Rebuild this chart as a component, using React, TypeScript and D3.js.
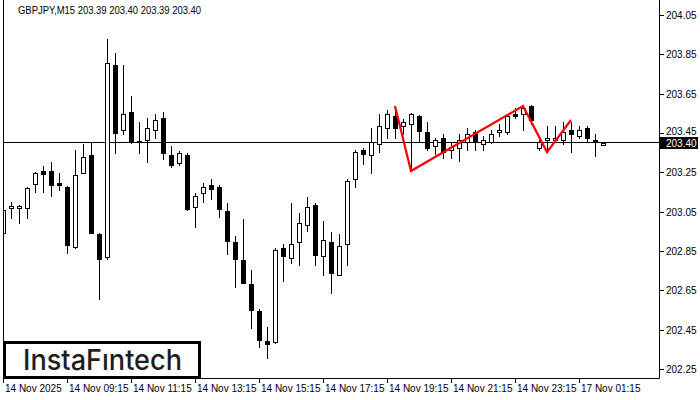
import { useEffect, useRef } from 'react';
import * as d3 from 'd3';

// M15 candles (bar index = position on the chart)
const opens = [
  202.94, 203.07, 203.07, 203.07, 203.19, 203.257, 203.257, 203.196, 203.176, 202.87,
  203.247, 203.338, 202.937, 202.82, 203.796, 203.465, 203.557, 203.41, 203.415, 203.465,
  203.526, 203.338, 203.298, 203.338, 203.074, 203.145, 203.186, 203.176, 203.054, 202.896,
  202.804, 202.682, 202.545, 202.393, 202.388, 202.865, 202.815, 202.896, 202.982, 203.084,
  202.825, 202.896, 202.728, 202.886, 203.216, 203.364, 203.338, 203.394, 203.475, 203.537,
  203.486, 203.496, 203.537, 203.455, 203.384, 203.425, 203.364, 203.374, 203.404, 203.455,
  203.394, 203.404, 203.455, 203.455, 203.547, 203.547, 203.587, 203.374, 203.414, 203.414,
  203.414, 203.465, 203.435, 203.475, 203.414, 203.39,
];
const highs = [
  203.07, 203.1, 203.085, 203.175, 203.25, 203.28, 203.3, 203.247, 203.18, 203.364,
  203.394, 203.404, 202.94, 203.928, 203.857, 203.796, 203.638, 203.506, 203.526, 203.547,
  203.557, 203.384, 203.358, 203.348, 203.145, 203.196, 203.216, 203.186, 203.094, 202.926,
  203.013, 202.753, 202.555, 202.464, 202.865, 202.886, 203.094, 203.043, 203.125, 203.094,
  203.003, 202.947, 202.937, 203.216, 203.364, 203.374, 203.475, 203.547, 203.567, 203.567,
  203.521, 203.55, 203.54, 203.506, 203.425, 203.445, 203.399, 203.445, 203.475, 203.465,
  203.435, 203.465, 203.496, 203.547, 203.577, 203.587, 203.59, 203.414, 203.486, 203.486,
  203.506, 203.506, 203.486, 203.486, 203.445, 203.4,
];
const lows = [
  202.91, 203.02, 202.99, 203.02, 203.15, 203.15, 203.13, 203.16, 202.84, 202.865,
  203.245, 202.94, 202.608, 202.81, 203.35, 203.444, 203.4, 203.35, 203.303, 203.425,
  203.318, 203.277, 203.287, 203.06, 202.972, 203.1, 203.115, 203.023, 202.835, 202.667,
  202.687, 202.459, 202.362, 202.307, 202.383, 202.699, 202.79, 202.78, 202.952, 202.78,
  202.728, 202.638, 202.728, 202.78, 203.176, 203.293, 203.247, 203.353, 203.425, 203.425,
  203.445, 203.257, 203.404, 203.364, 203.343, 203.323, 203.323, 203.308, 203.364, 203.364,
  203.364, 203.4, 203.435, 203.445, 203.526, 203.465, 203.496, 203.364, 203.353, 203.404,
  203.394, 203.353, 203.425, 203.404, 203.333, 203.39,
];
const closes = [
  203.06, 203.08, 203.08, 203.17, 203.245, 203.242, 203.186, 203.186, 202.881, 203.236,
  203.328, 202.943, 202.81, 203.804, 203.452, 203.545, 203.41, 203.41, 203.476, 203.516,
  203.348, 203.287, 203.348, 203.064, 203.13, 203.176, 203.165, 203.064, 202.901, 202.81,
  202.687, 202.55, 202.398, 202.377, 202.855, 202.825, 202.886, 202.993, 203.074, 202.83,
  202.906, 202.738, 202.876, 203.206, 203.353, 203.343, 203.404, 203.486, 203.547, 203.475,
  203.506, 203.547, 203.46, 203.374, 203.414, 203.353, 203.379, 203.414, 203.445, 203.404,
  203.414, 203.445, 203.465, 203.537, 203.537, 203.577, 203.516, 203.404, 203.425, 203.425,
  203.455, 203.445, 203.465, 203.425, 203.404, 203.4,
];

// red pattern outline: bar index and price of each vertex
const patternBars = [49, 51, 65, 68, 71];
const patternPrices = [203.587, 203.257, 203.587, 203.353, 203.516];

const priceTicks = [202.25, 202.45, 202.65, 202.85, 203.05, 203.25, 203.45, 203.65, 203.85, 204.05];
const timeTickBars = [0, 8, 16, 24, 32, 40, 48, 56, 64, 72];
const timeTickLabels = [
  '14 Nov 2025', '14 Nov 09:15', '14 Nov 11:15', '14 Nov 13:15', '14 Nov 15:15',
  '14 Nov 17:15', '14 Nov 19:15', '14 Nov 21:15', '14 Nov 23:15', '17 Nov 01:15',
];
const lastPrice = 203.4;
const title = 'GBPJPY,M15  203.39 203.40 203.39 203.40';

export default function App() {
  const svgRef = useRef<SVGSVGElement>(null);

  useEffect(() => {
    if (!svgRef.current) return;
    const width = 700;
    const height = 400;
    const frame = { left: 3, right: 659, bottom: 378 };
    const font = '"Liberation Sans", Arial, sans-serif';

    const svg = d3.select(svgRef.current);
    svg.selectAll('*').remove();
    svg.attr('width', width).attr('height', height);

    svg.append('rect').attr('width', width).attr('height', height).attr('fill', '#fff');

    const x = d3.scaleLinear().domain([0, 75]).range([3, 603]);
    const y = d3.scaleLinear().domain([202.25, 204.05]).range([369, 15]);
    const py = (v: number) => Math.round(y(v));

    svg.append('clipPath').attr('id', 'plot-clip')
      .append('rect')
      .attr('x', frame.left + 1).attr('y', 0)
      .attr('width', frame.right - frame.left - 1).attr('height', frame.bottom);

    const plot = svg.append('g').attr('clip-path', 'url(#plot-clip)');

    // current price line
    const ly = py(lastPrice) - 0.5;
    plot.append('line')
      .attr('x1', frame.left).attr('x2', frame.right)
      .attr('y1', ly).attr('y2', ly)
      .attr('stroke', '#000').attr('stroke-width', 1);

    const idx = d3.range(opens.length);
    const candles = plot.selectAll('.candle')
      .data(idx)
      .join('g')
      .attr('class', 'candle');

    candles.append('line')
      .attr('x1', i => Math.round(x(i)) + 0.5)
      .attr('x2', i => Math.round(x(i)) + 0.5)
      .attr('y1', i => py(highs[i]))
      .attr('y2', i => py(lows[i]) + 1)
      .attr('stroke', '#000').attr('stroke-width', 1);

    candles.append('rect')
      .attr('x', i => Math.round(x(i)) - 1.5)
      .attr('y', i => py(Math.max(opens[i], closes[i])) + 0.5)
      .attr('width', 4)
      .attr('height', i => Math.max(py(Math.min(opens[i], closes[i])) - py(Math.max(opens[i], closes[i])), 1))
      .attr('fill', i => (closes[i] >= opens[i] ? '#fff' : '#000'))
      .attr('stroke', '#000').attr('stroke-width', 1);

    // pattern lines
    const line = d3.line<number>()
      .x(i => x(patternBars[i]))
      .y(i => y(patternPrices[i]));
    plot.append('path')
      .attr('d', line(d3.range(patternBars.length)))
      .attr('fill', 'none')
      .attr('stroke', '#ff0000')
      .attr('stroke-width', 2.2)
      .attr('stroke-linejoin', 'miter');

    // frame
    svg.append('path')
      .attr('d', `M${frame.left + 0.5},0V${frame.bottom + 0.5}H${frame.right + 0.5}V0`)
      .attr('fill', 'none').attr('stroke', '#000').attr('stroke-width', 1);

    // price axis
    const pa = svg.append('g');
    priceTicks.forEach(t => {
      const ty = py(t) + 0.5;
      // the label next to the last-price box sits a little higher, as in the terminal
      const shift = Math.abs(t - lastPrice) < 0.1 ? -2.5 : 0;
      pa.append('line')
        .attr('x1', frame.right + 1).attr('x2', frame.right + 5)
        .attr('y1', ty).attr('y2', ty)
        .attr('stroke', '#000');
      pa.append('text')
        .attr('x', 666).attr('y', ty + 3.5 + shift)
        .style('font-family', font).style('font-size', '10px')
        .attr('fill', '#000')
        .text(t.toFixed(2));
    });

    pa.append('rect')
      .attr('x', frame.right + 1).attr('y', ly - 5.5)
      .attr('width', 38).attr('height', 12)
      .attr('fill', '#000');
    pa.append('text')
      .attr('x', 666).attr('y', ly + 4)
      .style('font-family', font).style('font-size', '10px')
      .attr('fill', '#fff')
      .text(lastPrice.toFixed(2));

    // time axis
    const ta = svg.append('g');
    timeTickBars.forEach((b, i) => {
      const tx = Math.round(x(b)) + 0.5;
      ta.append('line')
        .attr('x1', tx).attr('x2', tx)
        .attr('y1', frame.bottom).attr('y2', frame.bottom + 5)
        .attr('stroke', '#000');
      ta.append('text')
        .attr('x', tx + 1.5).attr('y', 392)
        .style('font-family', font).style('font-size', '10px')
        .attr('fill', '#000')
        .text(timeTickLabels[i]);
    });

    // title
    svg.append('text')
      .attr('x', 18).attr('y', 14)
      .style('font-family', font).style('font-size', '10px')
      .attr('fill', '#000')
      .attr('textLength', 183)
      .attr('lengthAdjust', 'spacingAndGlyphs')
      .text(title);

    // logo
    svg.append('rect')
      .attr('x', 4.5).attr('y', 342.5)
      .attr('width', 195).attr('height', 35)
      .attr('fill', '#fff').attr('stroke', '#000').attr('stroke-width', 3);
    svg.append('text')
      .attr('x', 23).attr('y', 370)
      .style('font-family', 'Inter, "Noto Sans", sans-serif')
      .style('font-size', '28px')
      .style('font-weight', 500)
      .attr('fill', '#1e1e1e')
      .attr('textLength', 159)
      .attr('lengthAdjust', 'spacingAndGlyphs')
      .text('InstaFıntech');
  }, []);

  return (
    <svg ref={svgRef} style={{ position: 'absolute', left: 0, top: 0, display: 'block' }} />
  );
}
